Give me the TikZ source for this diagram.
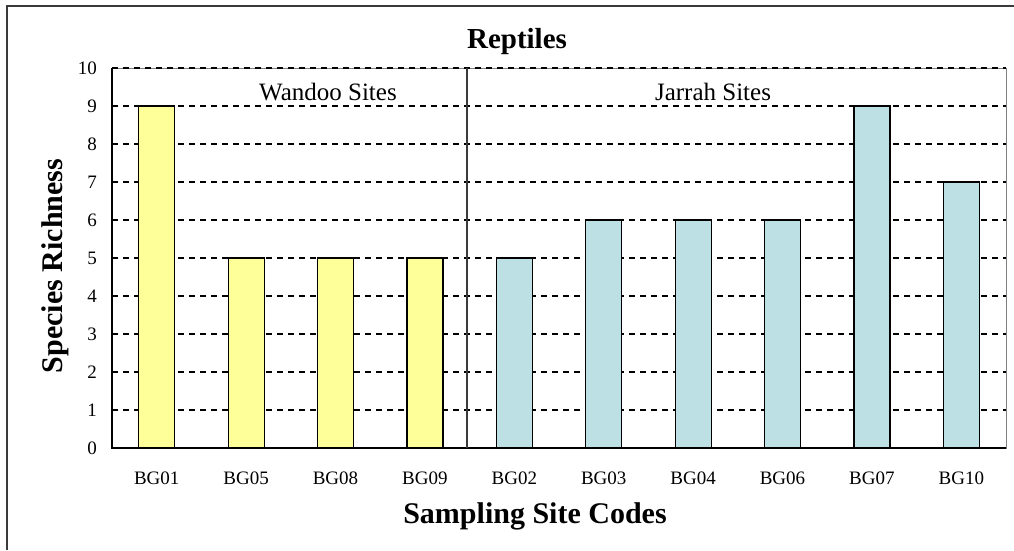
\documentclass[tikz,border=0pt]{standalone}
\usepackage{fontspec}
\setmainfont{Liberation Serif}
\definecolor{wandooyellow}{HTML}{FFFF99}
\definecolor{jarrahblue}{HTML}{BCE0E3}
\definecolor{framegrey}{HTML}{3A3A3A}

\begin{document}
\begin{tikzpicture}[
  x=1pt, y=-1pt,
  grid/.style={draw=black, line width=1.6pt, dash pattern=on 6pt off 5pt},
  bar/.style={draw=black, line width=1.2pt},
  ticklab/.style={font=\fontsize{19}{22}\selectfont, inner sep=0pt},
  sitelab/.style={font=\fontsize{25}{28}\selectfont, inner sep=0pt},
  axislab/.style={font=\fontsize{30}{34}\selectfont\bfseries, inner sep=0pt}
]
\useasboundingbox (0,0) rectangle (1014,550);
\fill[white] (0,0) rectangle (1014,550);
\draw[framegrey, line width=2pt] (7,550) -- (7,6) -- (1014,6);

% plot area and gridlines
\draw[gray, line width=1pt] (112,68) rectangle (1006,448);
\foreach \v in {1,...,10}
  \draw[grid] (112,448-38*\v) -- (1006,448-38*\v);
\foreach \v in {0,...,10}
  \node[ticklab, anchor=east] (tick\v) at (97,448-38*\v) {\v};

% bars
\foreach \code/\val/\col [count=\i] in {BG01/9/wandooyellow, BG05/5/wandooyellow,
    BG08/5/wandooyellow, BG09/5/wandooyellow, BG02/5/jarrahblue, BG03/6/jarrahblue,
    BG04/6/jarrahblue, BG06/6/jarrahblue, BG07/9/jarrahblue, BG10/7/jarrahblue} {
  \pgfmathsetmacro\xc{112+(\i-0.5)*89.4}
  \draw[bar, fill=\col] (\xc-18,448) rectangle (\xc+18,448-38*\val);
  \node[ticklab, anchor=base] (\code) at (\xc,484) {\code};
}

% axes and divider
\draw[black, line width=1.6pt] (112,68) -- (112,448);
\draw[black, line width=2pt] (111,448) -- (1006,448);
\draw[framegrey, line width=1.4pt] (467,68) -- (467,448);

\node[sitelab, anchor=base] (wandoo) at (328,100) {Wandoo Sites};
\node[sitelab, anchor=base] (jarrah) at (713,100) {Jarrah Sites};

\node[axislab, font=\fontsize{29}{32}\selectfont\bfseries, anchor=base] (title) at (517,48) {Reptiles};
\node[axislab, anchor=base] (xtitle) at (535,523) {Sampling Site Codes};
\node[axislab, rotate=90, anchor=base] (ytitle) at (62,266) {Species Richness};
\end{tikzpicture}
\end{document}
